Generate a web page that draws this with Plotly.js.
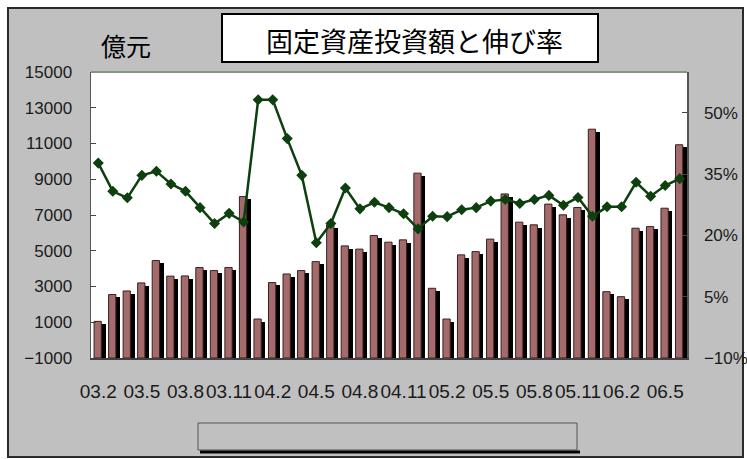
<!DOCTYPE html>
<html>
<head>
<meta charset="utf-8">
<script src="https://cdn.plot.ly/plotly-3.0.1.min.js"></script>
<style>html,body{margin:0;padding:0;background:#fff;}#chart{width:747px;height:459px;}</style>
</head>
<body>
<div id="chart"></div>
<script>
// Categories (monthly)
const months = ['03.2','03.3','03.4','03.5','03.6','03.7','03.8','03.9','03.10','03.11','03.12',
  '04.1','04.2','04.3','04.4','04.5','04.6','04.7','04.8','04.9','04.10','04.11','04.12',
  '05.1','05.2','05.3','05.4','05.5','05.6','05.7','05.8','05.9','05.10','05.11','05.12',
  '06.1','06.2','06.3','06.4','06.5','06.6'];
// Fixed asset investment (億元)
const investment = [1050,2550,2750,3200,4450,3580,3590,4060,3890,4060,8030,
  1180,3220,3700,3890,4390,6450,5270,5090,5850,5480,5610,9340,
  2900,1180,4770,4950,5650,8180,6600,6450,7610,7010,7420,11800,
  2710,2430,6260,6350,7380,10930];
// Growth rate (%)
const growth = [37.7,30.8,29.2,34.7,35.7,32.6,30.8,26.8,22.9,25.4,23.3,
  53.2,53.2,43.7,34.7,18.2,22.9,31.6,26.5,28.1,26.8,25.3,21.6,
  24.7,24.6,26.3,26.8,28.4,28.8,27.8,28.8,29.8,27.4,29.3,24.7,
  27.0,27.0,33.0,29.6,32.2,33.9];
// X tick labels (every third month)
const tickLabels = ['03.2','03.5','03.8','03.11','04.2','04.5','04.8','04.11','05.2','05.5','05.8','05.11','06.2','06.5'];
const tickMonths = months.filter((m,i)=>i%3===0);

const Y_MIN = -1000, Y_MAX = 15000;
const SHADOW_DROP = 150;

const W=747,H=459,L=91,R=60,T=72,B=101;
const pw=W-L-R, ph=H-T-B;
const px = x => (x-L)/pw;
const py = y => (H-B-y)/ph;

const shadow = {
  type:'bar', x:months, y:investment.map(v=>v-Y_MIN-SHADOW_DROP), base:Y_MIN,
  width:0.52, offset:-0.02, marker:{color:'#000000', line:{width:0}},
  hoverinfo:'skip', showlegend:false
};
const bars = {
  type:'bar', x:months, y:investment.map(v=>v-Y_MIN), base:Y_MIN,
  width:0.5, offset:-0.29, marker:{color:'#A36B6B', line:{color:'#3a1f1f', width:1}},
  name:'固定資産投資額', showlegend:false
};
const line = {
  type:'scatter', mode:'lines+markers', x:months, y:growth, yaxis:'y2',
  line:{color:'#0E3F0E', width:2.5},
  marker:{symbol:'diamond', size:8.5, color:'#0E3F0E'},
  name:'伸び率', showlegend:false
};

const tickFont = {family:'Liberation Sans, Arial, sans-serif', size:17, color:'#1a1a1a'};

const layout = {
  width:W, height:H,
  margin:{l:L, r:R, t:T, b:B, pad:0},
  paper_bgcolor:'#ffffff', plot_bgcolor:'#ffffff',
  barmode:'overlay', bargap:0,
  showlegend:false,
  xaxis:{type:'category', categoryorder:'array', categoryarray:months,
    range:[-0.5, months.length-0.5],
    tickmode:'array', tickvals:tickMonths, ticktext:tickLabels, tickangle:0,
    ticks:'', showgrid:false, zeroline:false,
    showline:true, linecolor:'#404040', linewidth:2,
    ticklabelstandoff:15,
    tickfont:{family:'Liberation Sans, Arial, sans-serif', size:19, color:'#1a1a1a'}},
  yaxis:{range:[Y_MIN, Y_MAX], tick0:Y_MIN, dtick:2000, tickformat:'d',
    ticks:'inside', ticklen:5, tickcolor:'#444', showgrid:false, zeroline:false,
    showline:true, linecolor:'#555', linewidth:1.5,
    ticklabelstandoff:14, tickfont:tickFont},
  yaxis2:{overlaying:'y', side:'right', range:[-10,60], tick0:-10, dtick:15, ticksuffix:'%',
    ticks:'inside', ticklen:5, tickcolor:'#444', showgrid:false, zeroline:false,
    showline:true, linecolor:'#555', linewidth:1.5,
    ticklabelstandoff:12, tickfont:tickFont},
  shapes:[
    {type:'rect', xref:'paper', yref:'paper', x0:px(8), x1:px(743), y0:py(457), y1:py(8),
      fillcolor:'#C0C0C0', line:{color:'#2a2a2a', width:2}, layer:'below'},
    {type:'rect', xref:'paper', yref:'paper', x0:0, x1:1, y0:0, y1:1,
      fillcolor:'#ffffff', line:{width:0}, layer:'below'},
    {type:'line', xref:'paper', yref:'paper', x0:0, x1:1, y0:1, y1:1,
      line:{color:'#7f9a7f', width:2}},
    {type:'rect', xref:'paper', yref:'paper', x0:px(222), x1:px(598), y0:py(62), y1:py(14),
      fillcolor:'#ffffff', line:{color:'#000', width:2}},
    {type:'rect', xref:'paper', yref:'paper', x0:px(198), x1:px(577), y0:py(450), y1:py(423),
      fillcolor:'#C0C0C0', line:{color:'#555', width:1}},
    {type:'line', xref:'paper', yref:'paper', x0:px(200), x1:px(580), y0:py(452), y1:py(452),
      line:{color:'#000', width:3}}
  ],
  annotations:[
    {xref:'paper', yref:'paper', x:px(414), y:py(40), text:'固定資産投資額と伸び率', showarrow:false,
      xanchor:'center', yanchor:'middle',
      font:{family:'Noto Sans CJK JP, sans-serif', size:27, color:'#000'}},
    {xref:'paper', yref:'paper', x:px(126), y:py(45), text:'億元', showarrow:false,
      xanchor:'center', yanchor:'middle',
      font:{family:'Noto Sans CJK JP, sans-serif', size:25, color:'#000'}}
  ]
};

Plotly.newPlot('chart', [shadow, bars, line], layout, {displayModeBar:false, staticPlot:true});
</script>
</body>
</html>
